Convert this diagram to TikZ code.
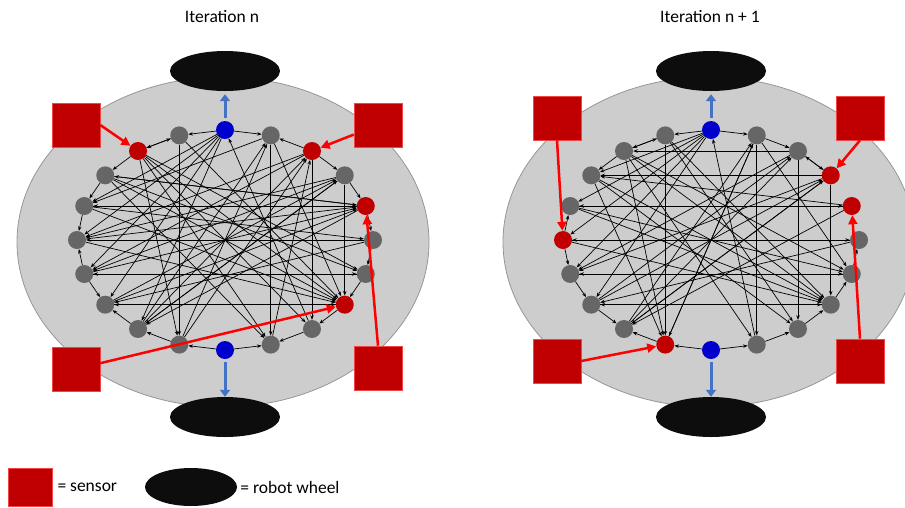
\documentclass[tikz,border=0pt]{standalone}
\usepackage{fontspec}
\setmainfont{Carlito}
\usepackage{xcolor}
\usepackage{tikz}
\usetikzlibrary{arrows.meta,positioning,shapes.geometric}

\definecolor{bodygray}{RGB}{205,205,205}
\definecolor{bordergray}{RGB}{150,150,150}
\definecolor{wheelblack}{RGB}{13,13,13}
\definecolor{sensorred}{RGB}{192,0,0}
\definecolor{sensoredge}{RGB}{240,70,70}
\definecolor{neurongray}{RGB}{102,102,102}
\definecolor{motorblue}{RGB}{0,0,204}
\definecolor{arrowred}{RGB}{255,0,0}
\definecolor{arrowblue}{RGB}{68,114,196}

\begin{document}
\begin{tikzpicture}[
  x=1pt, y=-1pt,
  body/.style={fill=bodygray, draw=bordergray, line width=0.8pt},
  wheel/.style={ellipse, fill=wheelblack, minimum width=110pt, minimum height=40pt, inner sep=0pt},
  sensor/.style={rectangle, fill=sensorred, draw=sensoredge, line width=0.6pt,
    minimum width=48pt, minimum height=44pt, inner sep=0pt},
  graynode/.style={circle, fill=neurongray, minimum size=18pt, inner sep=0pt},
  rednode/.style={graynode, fill=sensorred},
  bluenode/.style={graynode, fill=motorblue},
  link/.style={-{Stealth[length=4.5pt,width=3.5pt]}, line width=0.7pt},
  sensorarrow/.style={-{Triangle[length=9pt,width=9pt]}, line width=2.5pt, draw=arrowred},
  motorarrow/.style={-{Triangle[length=7pt,width=10pt]}, line width=3pt, draw=arrowblue},
  label/.style={font=\fontsize{17.5}{21}\selectfont, inner sep=0pt}
]
\useasboundingbox (0,0) rectangle (905,507);
\clip (0,0) rectangle (905,507);

% iteration n
\node[label] (titleL) at (222,17) {Iteration n};
\begin{scope}
  \draw[body] (223,242) ellipse [x radius=206, y radius=165];
  \node[wheel] (wTL) at (225,71) {};
  \node[wheel] (wBL) at (225,417) {};
  \foreach \k/\kind in {0/bluenode,1/graynode,2/rednode,3/graynode,4/rednode,
      5/graynode,6/graynode,7/rednode,8/graynode,9/graynode,10/bluenode,
      11/graynode,12/graynode,13/graynode,14/graynode,15/graynode,16/graynode,
      17/graynode,18/rednode,19/graynode}
    \node[\kind] (L\k) at ({225+148*cos(90-18*\k)},{240-110*sin(90-18*\k)}) {};
  \foreach \a/\b in {0/19,0/1,19/18,18/19,2/1,18/17,17/16,16/15,14/15,14/13,
      12/13,2/3,3/4,4/5,5/6,6/7,7/8,8/9,10/9,10/11,11/12,
      4/16,16/4,5/15,15/4,14/6,6/14,13/7,7/13,
      2/8,3/7,18/11,19/11,1/9,
      0/16,0/15,0/14,0/13,0/12,8/0,
      18/7,17/7,16/7,15/7,19/7,1/7,18/6,17/6,18/9,17/9,18/8,
      11/1,12/1,9/2,11/2,12/2,13/3,12/3,17/4,14/4,13/4,16/5,
      4/12,3/12,5/13,3/14,2/14,2/15,3/15,1/16,4/17}
    \draw[link] (L\a) -- (L\b);
  \node[sensor] (sTL) at (76,125) {};
  \node[sensor] (sTR) at (378,125) {};
  \node[sensor] (sBL) at (76,369) {};
  \node[sensor] (sBR) at (378,368) {};
  \draw[motorarrow, shorten <=3pt, shorten >=3pt] (L0) -- (wTL);
  \draw[motorarrow, shorten <=3pt] (L10) -- (wBL);
  \draw[sensorarrow] (sTL.east) -- (L18);
  \draw[sensorarrow] (sTR) -- (L2);
  \draw[sensorarrow] (sBL) -- (L7);
  \draw[sensorarrow] (sBR.north) -- (L4);
\end{scope}

% iteration n + 1
\node[label] (titleR) at (710,17) {Iteration n + 1};
\begin{scope}[shift={(486,0)}]
  \draw[body] (223,242) ellipse [x radius=206, y radius=165];
  \node[wheel] (wTR) at (225,71) {};
  \node[wheel] (wBR) at (225,417) {};
  \foreach \k/\kind in {0/bluenode,1/graynode,2/graynode,3/rednode,4/rednode,
      5/graynode,6/graynode,7/graynode,8/graynode,9/graynode,10/bluenode,
      11/rednode,12/graynode,13/graynode,14/graynode,15/rednode,16/graynode,
      17/graynode,18/graynode,19/graynode}
    \node[\kind] (R\k) at ({225+148*cos(90-18*\k)},{240-110*sin(90-18*\k)}) {};
  \foreach \a/\b in {0/19,0/1,19/18,18/19,18/17,15/16,15/14,14/13,13/12,11/12,
      10/11,10/9,9/8,8/7,7/6,6/5,2/3,3/2,1/2,
      16/4,4/16,15/5,5/15,14/6,6/14,13/7,7/13,
      2/8,3/7,
      0/16,0/15,0/14,0/13,0/17,9/0,
      18/11,19/11,1/11,17/11,
      18/7,17/7,16/7,15/7,19/7,18/6,16/6,1/6,18/9,1/9,17/8,19/8,
      11/1,12/1,12/2,13/2,13/3,12/3,4/12,3/12,5/13,3/14,2/14,4/17,3/17,2/18}
    \draw[link] (R\a) -- (R\b);
  \node[sensor] (rTL) at (71,118) {};
  \node[sensor] (rTR) at (374,118) {};
  \node[sensor] (rBL) at (71,361) {};
  \node[sensor] (rBR) at (374,361) {};
  \draw[motorarrow, shorten <=3pt, shorten >=3pt] (R0) -- (wTR);
  \draw[motorarrow, shorten <=3pt] (R10) -- (wBR);
  \draw[sensorarrow] (rTL.south) -- (R15);
  \draw[sensorarrow] (rTR.south) -- (R3);
  \draw[sensorarrow] (rBL.east) -- (R11);
  \draw[sensorarrow] (rBR.north) -- (R4);
\end{scope}

% legend
\node[sensor, minimum width=44pt, minimum height=38pt] (keySensor) at (30,487) {};
\node[label, right=5pt of keySensor] (keySensorText) {= sensor};
\node[wheel, minimum width=92pt, minimum height=38pt] (keyWheel) at (191,487) {};
\node[label, right=3pt of keyWheel] (keyWheelText) {= robot wheel};
\end{tikzpicture}
\end{document}
